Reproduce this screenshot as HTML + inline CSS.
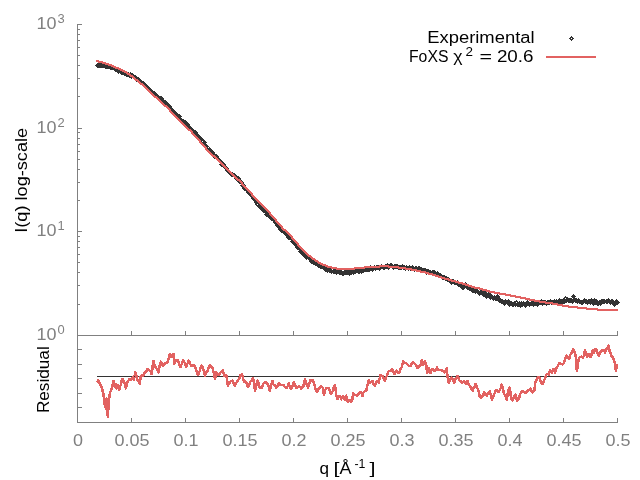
<!DOCTYPE html>
<html lang="en">
<head>
<meta charset="utf-8">
<title>FoXS fit plot</title>
<style>
html,body{margin:0;padding:0;background:#ffffff;}
body{width:640px;height:480px;overflow:hidden;font-family:"Liberation Sans",sans-serif;}
svg{display:block;}
</style>
</head>
<body>
<svg width="640" height="480" viewBox="0 0 640 480">
<rect width="640" height="480" fill="#ffffff"/>
<g fill="#808080" shape-rendering="crispEdges">
<rect x="77" y="24" width="1" height="399"/>
<rect x="77" y="335" width="541" height="1"/>
<rect x="77" y="422" width="541" height="1"/>
<rect x="131" y="331" width="1" height="5"/>
<rect x="131" y="418" width="1" height="5"/>
<rect x="185" y="331" width="1" height="5"/>
<rect x="185" y="418" width="1" height="5"/>
<rect x="239" y="331" width="1" height="5"/>
<rect x="239" y="418" width="1" height="5"/>
<rect x="293" y="331" width="1" height="5"/>
<rect x="293" y="418" width="1" height="5"/>
<rect x="347" y="331" width="1" height="5"/>
<rect x="347" y="418" width="1" height="5"/>
<rect x="401" y="331" width="1" height="5"/>
<rect x="401" y="418" width="1" height="5"/>
<rect x="455" y="331" width="1" height="5"/>
<rect x="455" y="418" width="1" height="5"/>
<rect x="509" y="331" width="1" height="5"/>
<rect x="509" y="418" width="1" height="5"/>
<rect x="563" y="331" width="1" height="5"/>
<rect x="563" y="418" width="1" height="5"/>
<rect x="617" y="331" width="1" height="5"/>
<rect x="617" y="418" width="1" height="5"/>
<rect x="77" y="335" width="5" height="1"/>
<rect x="77" y="304" width="3" height="1"/>
<rect x="77" y="285" width="3" height="1"/>
<rect x="77" y="272" width="3" height="1"/>
<rect x="77" y="262" width="3" height="1"/>
<rect x="77" y="254" width="3" height="1"/>
<rect x="77" y="247" width="3" height="1"/>
<rect x="77" y="241" width="3" height="1"/>
<rect x="77" y="236" width="3" height="1"/>
<rect x="77" y="231" width="5" height="1"/>
<rect x="77" y="200" width="3" height="1"/>
<rect x="77" y="182" width="3" height="1"/>
<rect x="77" y="169" width="3" height="1"/>
<rect x="77" y="159" width="3" height="1"/>
<rect x="77" y="151" width="3" height="1"/>
<rect x="77" y="144" width="3" height="1"/>
<rect x="77" y="138" width="3" height="1"/>
<rect x="77" y="132" width="3" height="1"/>
<rect x="77" y="128" width="5" height="1"/>
<rect x="77" y="96" width="3" height="1"/>
<rect x="77" y="78" width="3" height="1"/>
<rect x="77" y="65" width="3" height="1"/>
<rect x="77" y="55" width="3" height="1"/>
<rect x="77" y="47" width="3" height="1"/>
<rect x="77" y="40" width="3" height="1"/>
<rect x="77" y="34" width="3" height="1"/>
<rect x="77" y="29" width="3" height="1"/>
<rect x="77" y="24" width="5" height="1"/>
<rect x="77" y="349" width="5" height="1"/>
<rect x="77" y="364" width="5" height="1"/>
<rect x="77" y="378" width="5" height="1"/>
<rect x="77" y="393" width="5" height="1"/>
<rect x="77" y="407" width="5" height="1"/>
</g>
<rect x="97" y="376" width="521" height="1" fill="#333333" shape-rendering="crispEdges"/>
<defs><g id="d" fill="#333333" shape-rendering="crispEdges"><rect x="0" y="-2" width="1" height="1"/><rect x="-1" y="-1" width="3" height="1"/><rect x="-2" y="0" width="2" height="1"/><rect x="1" y="0" width="2" height="1"/><rect x="-1" y="1" width="3" height="1"/><rect x="0" y="2" width="1" height="1"/></g><g id="e" fill="#333333" shape-rendering="crispEdges"><rect x="0" y="-2" width="1" height="5"/><rect x="-1" y="-1" width="3" height="3"/><rect x="-2" y="0" width="5" height="1"/></g></defs>
<g>
<use href="#d" x="97" y="65"/>
<use href="#d" x="98" y="65"/>
<use href="#e" x="99" y="65"/>
<use href="#e" x="100" y="65"/>
<use href="#e" x="101" y="65"/>
<use href="#e" x="102" y="65"/>
<use href="#e" x="103" y="65"/>
<use href="#e" x="104" y="65"/>
<use href="#e" x="105" y="66"/>
<use href="#d" x="106" y="66"/>
<use href="#e" x="107" y="66"/>
<use href="#e" x="108" y="66"/>
<use href="#e" x="110" y="67"/>
<use href="#e" x="111" y="67"/>
<use href="#e" x="112" y="67"/>
<use href="#d" x="113" y="67"/>
<use href="#e" x="114" y="68"/>
<use href="#e" x="115" y="69"/>
<use href="#e" x="116" y="69"/>
<use href="#e" x="117" y="69"/>
<use href="#e" x="118" y="71"/>
<use href="#e" x="119" y="70"/>
<use href="#e" x="120" y="71"/>
<use href="#e" x="121" y="72"/>
<use href="#e" x="122" y="72"/>
<use href="#e" x="123" y="72"/>
<use href="#e" x="124" y="73"/>
<use href="#e" x="125" y="73"/>
<use href="#e" x="126" y="74"/>
<use href="#e" x="127" y="74"/>
<use href="#e" x="128" y="74"/>
<use href="#e" x="129" y="75"/>
<use href="#e" x="130" y="74"/>
<use href="#e" x="131" y="76"/>
<use href="#d" x="132" y="75"/>
<use href="#e" x="133" y="76"/>
<use href="#e" x="135" y="77"/>
<use href="#e" x="136" y="79"/>
<use href="#e" x="137" y="79"/>
<use href="#e" x="138" y="79"/>
<use href="#e" x="139" y="81"/>
<use href="#e" x="140" y="81"/>
<use href="#e" x="141" y="82"/>
<use href="#e" x="142" y="83"/>
<use href="#d" x="143" y="83"/>
<use href="#e" x="144" y="84"/>
<use href="#e" x="145" y="86"/>
<use href="#e" x="146" y="87"/>
<use href="#e" x="147" y="87"/>
<use href="#e" x="148" y="88"/>
<use href="#e" x="149" y="90"/>
<use href="#e" x="150" y="90"/>
<use href="#e" x="151" y="91"/>
<use href="#d" x="152" y="92"/>
<use href="#e" x="153" y="93"/>
<use href="#e" x="154" y="93"/>
<use href="#d" x="155" y="94"/>
<use href="#e" x="156" y="96"/>
<use href="#e" x="157" y="96"/>
<use href="#e" x="158" y="98"/>
<use href="#e" x="160" y="98"/>
<use href="#e" x="161" y="98"/>
<use href="#e" x="162" y="100"/>
<use href="#e" x="163" y="102"/>
<use href="#e" x="164" y="102"/>
<use href="#e" x="165" y="102"/>
<use href="#d" x="166" y="103"/>
<use href="#e" x="167" y="104"/>
<use href="#e" x="168" y="106"/>
<use href="#e" x="169" y="106"/>
<use href="#e" x="170" y="109"/>
<use href="#e" x="171" y="109"/>
<use href="#e" x="172" y="110"/>
<use href="#e" x="173" y="112"/>
<use href="#e" x="174" y="113"/>
<use href="#e" x="175" y="113"/>
<use href="#e" x="176" y="114"/>
<use href="#e" x="177" y="116"/>
<use href="#e" x="178" y="116"/>
<use href="#e" x="179" y="116"/>
<use href="#e" x="180" y="119"/>
<use href="#e" x="181" y="120"/>
<use href="#e" x="182" y="121"/>
<use href="#e" x="183" y="121"/>
<use href="#e" x="185" y="122"/>
<use href="#e" x="186" y="123"/>
<use href="#e" x="187" y="124"/>
<use href="#e" x="188" y="126"/>
<use href="#e" x="189" y="128"/>
<use href="#e" x="190" y="128"/>
<use href="#e" x="191" y="129"/>
<use href="#e" x="192" y="130"/>
<use href="#e" x="193" y="131"/>
<use href="#e" x="194" y="132"/>
<use href="#d" x="195" y="132"/>
<use href="#e" x="196" y="134"/>
<use href="#d" x="197" y="137"/>
<use href="#e" x="198" y="137"/>
<use href="#e" x="199" y="137"/>
<use href="#e" x="200" y="138"/>
<use href="#e" x="201" y="139"/>
<use href="#d" x="202" y="141"/>
<use href="#e" x="203" y="143"/>
<use href="#e" x="204" y="142"/>
<use href="#e" x="205" y="145"/>
<use href="#e" x="206" y="146"/>
<use href="#e" x="207" y="149"/>
<use href="#e" x="209" y="149"/>
<use href="#e" x="210" y="151"/>
<use href="#e" x="211" y="151"/>
<use href="#e" x="212" y="152"/>
<use href="#e" x="213" y="154"/>
<use href="#e" x="214" y="156"/>
<use href="#e" x="215" y="156"/>
<use href="#e" x="216" y="156"/>
<use href="#e" x="217" y="158"/>
<use href="#e" x="218" y="159"/>
<use href="#e" x="219" y="160"/>
<use href="#e" x="220" y="161"/>
<use href="#e" x="221" y="164"/>
<use href="#e" x="222" y="163"/>
<use href="#e" x="223" y="164"/>
<use href="#e" x="224" y="166"/>
<use href="#e" x="225" y="167"/>
<use href="#e" x="226" y="168"/>
<use href="#e" x="227" y="170"/>
<use href="#e" x="228" y="171"/>
<use href="#e" x="229" y="172"/>
<use href="#e" x="230" y="173"/>
<use href="#e" x="231" y="174"/>
<use href="#e" x="232" y="174"/>
<use href="#e" x="234" y="175"/>
<use href="#e" x="235" y="176"/>
<use href="#e" x="236" y="178"/>
<use href="#d" x="237" y="178"/>
<use href="#e" x="238" y="178"/>
<use href="#e" x="239" y="181"/>
<use href="#d" x="240" y="181"/>
<use href="#e" x="241" y="182"/>
<use href="#e" x="242" y="185"/>
<use href="#e" x="243" y="185"/>
<use href="#e" x="244" y="188"/>
<use href="#e" x="245" y="188"/>
<use href="#e" x="246" y="189"/>
<use href="#e" x="247" y="190"/>
<use href="#d" x="248" y="192"/>
<use href="#e" x="249" y="193"/>
<use href="#e" x="250" y="194"/>
<use href="#e" x="251" y="195"/>
<use href="#d" x="252" y="196"/>
<use href="#e" x="253" y="198"/>
<use href="#e" x="254" y="198"/>
<use href="#e" x="255" y="200"/>
<use href="#e" x="256" y="202"/>
<use href="#d" x="257" y="204"/>
<use href="#e" x="259" y="206"/>
<use href="#e" x="260" y="204"/>
<use href="#e" x="261" y="207"/>
<use href="#e" x="262" y="209"/>
<use href="#d" x="263" y="210"/>
<use href="#e" x="264" y="209"/>
<use href="#e" x="265" y="211"/>
<use href="#e" x="266" y="214"/>
<use href="#e" x="267" y="212"/>
<use href="#e" x="268" y="215"/>
<use href="#e" x="269" y="216"/>
<use href="#e" x="270" y="216"/>
<use href="#e" x="271" y="218"/>
<use href="#e" x="272" y="218"/>
<use href="#e" x="273" y="219"/>
<use href="#e" x="274" y="220"/>
<use href="#e" x="275" y="222"/>
<use href="#e" x="276" y="223"/>
<use href="#e" x="277" y="225"/>
<use href="#e" x="278" y="225"/>
<use href="#e" x="279" y="227"/>
<use href="#d" x="280" y="229"/>
<use href="#e" x="281" y="230"/>
<use href="#e" x="282" y="229"/>
<use href="#e" x="284" y="232"/>
<use href="#e" x="285" y="232"/>
<use href="#e" x="286" y="234"/>
<use href="#e" x="287" y="235"/>
<use href="#e" x="288" y="237"/>
<use href="#e" x="289" y="237"/>
<use href="#e" x="290" y="236"/>
<use href="#e" x="291" y="238"/>
<use href="#d" x="292" y="241"/>
<use href="#e" x="293" y="241"/>
<use href="#e" x="294" y="243"/>
<use href="#e" x="295" y="244"/>
<use href="#d" x="296" y="244"/>
<use href="#d" x="297" y="247"/>
<use href="#e" x="298" y="247"/>
<use href="#e" x="299" y="247"/>
<use href="#e" x="300" y="251"/>
<use href="#e" x="301" y="249"/>
<use href="#e" x="302" y="252"/>
<use href="#e" x="303" y="254"/>
<use href="#e" x="304" y="254"/>
<use href="#e" x="305" y="254"/>
<use href="#e" x="306" y="257"/>
<use href="#e" x="308" y="256"/>
<use href="#e" x="309" y="257"/>
<use href="#e" x="310" y="259"/>
<use href="#e" x="311" y="261"/>
<use href="#e" x="312" y="261"/>
<use href="#e" x="313" y="262"/>
<use href="#e" x="314" y="262"/>
<use href="#e" x="315" y="263"/>
<use href="#e" x="316" y="263"/>
<use href="#e" x="317" y="264"/>
<use href="#e" x="318" y="265"/>
<use href="#e" x="319" y="265"/>
<use href="#d" x="320" y="266"/>
<use href="#e" x="321" y="266"/>
<use href="#e" x="322" y="266"/>
<use href="#e" x="323" y="267"/>
<use href="#e" x="324" y="268"/>
<use href="#e" x="325" y="269"/>
<use href="#e" x="326" y="269"/>
<use href="#e" x="327" y="270"/>
<use href="#e" x="328" y="269"/>
<use href="#e" x="329" y="270"/>
<use href="#e" x="330" y="270"/>
<use href="#d" x="331" y="271"/>
<use href="#e" x="333" y="271"/>
<use href="#e" x="334" y="271"/>
<use href="#e" x="335" y="271"/>
<use href="#e" x="336" y="272"/>
<use href="#e" x="337" y="271"/>
<use href="#e" x="338" y="271"/>
<use href="#e" x="339" y="272"/>
<use href="#e" x="340" y="272"/>
<use href="#d" x="341" y="272"/>
<use href="#e" x="342" y="273"/>
<use href="#e" x="343" y="273"/>
<use href="#e" x="344" y="272"/>
<use href="#e" x="345" y="272"/>
<use href="#e" x="346" y="272"/>
<use href="#e" x="347" y="272"/>
<use href="#e" x="348" y="271"/>
<use href="#e" x="349" y="273"/>
<use href="#e" x="350" y="272"/>
<use href="#e" x="351" y="272"/>
<use href="#d" x="352" y="271"/>
<use href="#e" x="353" y="272"/>
<use href="#e" x="354" y="271"/>
<use href="#e" x="355" y="271"/>
<use href="#e" x="356" y="270"/>
<use href="#e" x="358" y="271"/>
<use href="#e" x="359" y="271"/>
<use href="#e" x="360" y="270"/>
<use href="#e" x="361" y="271"/>
<use href="#e" x="362" y="270"/>
<use href="#e" x="363" y="270"/>
<use href="#e" x="364" y="269"/>
<use href="#e" x="365" y="269"/>
<use href="#e" x="366" y="269"/>
<use href="#e" x="367" y="269"/>
<use href="#e" x="368" y="269"/>
<use href="#e" x="369" y="269"/>
<use href="#e" x="370" y="267"/>
<use href="#e" x="371" y="268"/>
<use href="#e" x="372" y="269"/>
<use href="#e" x="373" y="268"/>
<use href="#e" x="374" y="267"/>
<use href="#e" x="375" y="268"/>
<use href="#e" x="376" y="267"/>
<use href="#e" x="377" y="267"/>
<use href="#e" x="378" y="267"/>
<use href="#e" x="379" y="268"/>
<use href="#e" x="380" y="267"/>
<use href="#e" x="381" y="266"/>
<use href="#e" x="383" y="267"/>
<use href="#e" x="384" y="267"/>
<use href="#e" x="385" y="266"/>
<use href="#e" x="386" y="266"/>
<use href="#e" x="387" y="265"/>
<use href="#d" x="388" y="267"/>
<use href="#e" x="389" y="266"/>
<use href="#e" x="390" y="265"/>
<use href="#e" x="391" y="265"/>
<use href="#e" x="392" y="266"/>
<use href="#e" x="393" y="267"/>
<use href="#e" x="394" y="266"/>
<use href="#e" x="395" y="266"/>
<use href="#e" x="396" y="266"/>
<use href="#e" x="397" y="266"/>
<use href="#e" x="398" y="267"/>
<use href="#e" x="399" y="267"/>
<use href="#e" x="400" y="267"/>
<use href="#e" x="401" y="267"/>
<use href="#e" x="402" y="266"/>
<use href="#e" x="403" y="267"/>
<use href="#e" x="404" y="267"/>
<use href="#e" x="405" y="268"/>
<use href="#e" x="406" y="267"/>
<use href="#e" x="408" y="268"/>
<use href="#e" x="409" y="267"/>
<use href="#e" x="410" y="268"/>
<use href="#e" x="411" y="268"/>
<use href="#e" x="412" y="267"/>
<use href="#e" x="413" y="268"/>
<use href="#e" x="414" y="269"/>
<use href="#e" x="415" y="268"/>
<use href="#e" x="416" y="268"/>
<use href="#e" x="417" y="269"/>
<use href="#d" x="418" y="268"/>
<use href="#e" x="419" y="268"/>
<use href="#e" x="420" y="269"/>
<use href="#e" x="421" y="269"/>
<use href="#e" x="422" y="270"/>
<use href="#e" x="423" y="270"/>
<use href="#e" x="424" y="270"/>
<use href="#e" x="425" y="270"/>
<use href="#e" x="426" y="272"/>
<use href="#e" x="427" y="271"/>
<use href="#e" x="428" y="271"/>
<use href="#d" x="429" y="272"/>
<use href="#d" x="430" y="272"/>
<use href="#e" x="432" y="272"/>
<use href="#e" x="433" y="272"/>
<use href="#e" x="434" y="272"/>
<use href="#e" x="435" y="274"/>
<use href="#e" x="436" y="274"/>
<use href="#e" x="437" y="273"/>
<use href="#e" x="438" y="275"/>
<use href="#d" x="439" y="275"/>
<use href="#e" x="440" y="275"/>
<use href="#e" x="441" y="276"/>
<use href="#d" x="442" y="277"/>
<use href="#e" x="443" y="277"/>
<use href="#e" x="444" y="277"/>
<use href="#e" x="445" y="278"/>
<use href="#e" x="446" y="278"/>
<use href="#e" x="447" y="279"/>
<use href="#d" x="448" y="279"/>
<use href="#e" x="449" y="280"/>
<use href="#d" x="450" y="281"/>
<use href="#e" x="451" y="282"/>
<use href="#e" x="452" y="281"/>
<use href="#e" x="453" y="281"/>
<use href="#d" x="454" y="282"/>
<use href="#d" x="455" y="282"/>
<use href="#e" x="457" y="282"/>
<use href="#e" x="458" y="284"/>
<use href="#e" x="459" y="284"/>
<use href="#e" x="460" y="285"/>
<use href="#e" x="461" y="284"/>
<use href="#d" x="462" y="287"/>
<use href="#e" x="463" y="287"/>
<use href="#e" x="464" y="285"/>
<use href="#e" x="465" y="284"/>
<use href="#e" x="466" y="286"/>
<use href="#e" x="467" y="287"/>
<use href="#e" x="468" y="286"/>
<use href="#e" x="469" y="288"/>
<use href="#e" x="470" y="288"/>
<use href="#e" x="471" y="288"/>
<use href="#e" x="472" y="290"/>
<use href="#e" x="473" y="290"/>
<use href="#d" x="474" y="290"/>
<use href="#e" x="475" y="291"/>
<use href="#e" x="476" y="290"/>
<use href="#e" x="477" y="291"/>
<use href="#e" x="478" y="292"/>
<use href="#e" x="479" y="293"/>
<use href="#d" x="480" y="292"/>
<use href="#e" x="482" y="291"/>
<use href="#e" x="483" y="294"/>
<use href="#e" x="484" y="292"/>
<use href="#e" x="485" y="294"/>
<use href="#e" x="486" y="296"/>
<use href="#e" x="487" y="295"/>
<use href="#e" x="488" y="294"/>
<use href="#e" x="489" y="294"/>
<use href="#e" x="490" y="297"/>
<use href="#e" x="491" y="296"/>
<use href="#e" x="492" y="297"/>
<use href="#e" x="493" y="298"/>
<use href="#e" x="494" y="297"/>
<use href="#d" x="495" y="298"/>
<use href="#e" x="496" y="298"/>
<use href="#e" x="497" y="296"/>
<use href="#e" x="498" y="298"/>
<use href="#e" x="499" y="300"/>
<use href="#e" x="500" y="300"/>
<use href="#e" x="501" y="301"/>
<use href="#e" x="502" y="301"/>
<use href="#e" x="503" y="302"/>
<use href="#e" x="504" y="303"/>
<use href="#e" x="505" y="301"/>
<use href="#e" x="507" y="302"/>
<use href="#e" x="508" y="301"/>
<use href="#e" x="509" y="304"/>
<use href="#e" x="510" y="303"/>
<use href="#e" x="511" y="303"/>
<use href="#e" x="512" y="304"/>
<use href="#e" x="513" y="304"/>
<use href="#e" x="514" y="303"/>
<use href="#d" x="515" y="304"/>
<use href="#d" x="516" y="302"/>
<use href="#e" x="517" y="304"/>
<use href="#e" x="518" y="304"/>
<use href="#d" x="519" y="303"/>
<use href="#e" x="520" y="305"/>
<use href="#e" x="521" y="303"/>
<use href="#e" x="522" y="304"/>
<use href="#e" x="523" y="303"/>
<use href="#e" x="524" y="304"/>
<use href="#e" x="525" y="305"/>
<use href="#e" x="526" y="303"/>
<use href="#e" x="527" y="302"/>
<use href="#e" x="528" y="303"/>
<use href="#e" x="529" y="304"/>
<use href="#e" x="531" y="303"/>
<use href="#e" x="532" y="303"/>
<use href="#e" x="533" y="304"/>
<use href="#e" x="534" y="301"/>
<use href="#e" x="535" y="303"/>
<use href="#e" x="536" y="302"/>
<use href="#e" x="537" y="304"/>
<use href="#d" x="538" y="302"/>
<use href="#e" x="539" y="302"/>
<use href="#e" x="540" y="302"/>
<use href="#e" x="541" y="301"/>
<use href="#e" x="542" y="303"/>
<use href="#e" x="543" y="302"/>
<use href="#e" x="544" y="302"/>
<use href="#e" x="545" y="302"/>
<use href="#e" x="546" y="303"/>
<use href="#e" x="547" y="302"/>
<use href="#e" x="548" y="302"/>
<use href="#e" x="549" y="302"/>
<use href="#e" x="550" y="301"/>
<use href="#e" x="551" y="302"/>
<use href="#e" x="552" y="302"/>
<use href="#e" x="553" y="302"/>
<use href="#e" x="554" y="301"/>
<use href="#e" x="556" y="301"/>
<use href="#e" x="557" y="302"/>
<use href="#e" x="558" y="303"/>
<use href="#e" x="559" y="300"/>
<use href="#e" x="560" y="302"/>
<use href="#d" x="561" y="301"/>
<use href="#d" x="562" y="301"/>
<use href="#e" x="563" y="301"/>
<use href="#e" x="564" y="301"/>
<use href="#d" x="565" y="298"/>
<use href="#e" x="566" y="300"/>
<use href="#d" x="567" y="299"/>
<use href="#e" x="568" y="300"/>
<use href="#e" x="569" y="300"/>
<use href="#e" x="570" y="300"/>
<use href="#e" x="571" y="300"/>
<use href="#e" x="572" y="301"/>
<use href="#e" x="573" y="296"/>
<use href="#e" x="574" y="299"/>
<use href="#e" x="575" y="300"/>
<use href="#d" x="576" y="300"/>
<use href="#e" x="577" y="301"/>
<use href="#e" x="578" y="300"/>
<use href="#e" x="579" y="301"/>
<use href="#d" x="581" y="302"/>
<use href="#e" x="582" y="302"/>
<use href="#e" x="583" y="301"/>
<use href="#e" x="584" y="300"/>
<use href="#e" x="585" y="301"/>
<use href="#e" x="586" y="301"/>
<use href="#e" x="587" y="302"/>
<use href="#e" x="588" y="301"/>
<use href="#d" x="589" y="301"/>
<use href="#e" x="590" y="302"/>
<use href="#e" x="591" y="300"/>
<use href="#e" x="592" y="302"/>
<use href="#e" x="593" y="303"/>
<use href="#e" x="594" y="300"/>
<use href="#e" x="595" y="302"/>
<use href="#e" x="596" y="301"/>
<use href="#d" x="597" y="303"/>
<use href="#e" x="598" y="303"/>
<use href="#e" x="599" y="302"/>
<use href="#e" x="600" y="303"/>
<use href="#e" x="601" y="301"/>
<use href="#e" x="602" y="301"/>
<use href="#e" x="603" y="301"/>
<use href="#e" x="604" y="301"/>
<use href="#e" x="606" y="301"/>
<use href="#e" x="607" y="301"/>
<use href="#e" x="608" y="300"/>
<use href="#d" x="609" y="301"/>
<use href="#e" x="610" y="302"/>
<use href="#e" x="611" y="301"/>
<use href="#e" x="612" y="301"/>
<use href="#e" x="613" y="303"/>
<use href="#e" x="614" y="304"/>
<use href="#e" x="615" y="302"/>
<use href="#e" x="616" y="301"/>
<use href="#e" x="617" y="302"/>
</g>
<path fill="#e26261" shape-rendering="crispEdges" d="M96 60h3v1h-3zM96 61h7v1h-7zM98 62h8v1h-8zM102 63h7v1h-7zM105 64h7v1h-7zM108 65h6v1h-6zM111 66h5v1h-5zM113 67h6v1h-6zM115 68h6v1h-6zM118 69h5v1h-5zM120 70h5v1h-5zM122 71h5v1h-5zM124 72h4v1h-4zM126 73h4v1h-4zM127 74h4v1h-4zM129 75h4v1h-4zM130 76h4v1h-4zM132 77h3v1h-3zM133 78h3v1h-3zM134 79h4v1h-4zM135 80h4v1h-4zM137 81h3v1h-3zM138 82h3v1h-3zM139 83h4v1h-4zM140 84h4v1h-4zM142 85h3v1h-3zM143 86h3v1h-3zM144 87h3v1h-3zM145 88h3v1h-3zM146 89h3v1h-3zM147 90h3v1h-3zM148 91h3v1h-3zM149 92h3v1h-3zM150 93h3v1h-3zM151 94h3v1h-3zM152 95h3v1h-3zM153 96h4v1h-4zM154 97h4v1h-4zM156 98h3v1h-3zM157 99h3v1h-3zM158 100h3v1h-3zM159 101h3v1h-3zM160 102h3v1h-3zM161 103h3v1h-3zM162 104h3v1h-3zM163 105h4v1h-4zM164 106h4v1h-4zM166 107h3v1h-3zM167 108h3v1h-3zM168 109h3v1h-3zM169 110h2v1h-2zM169 111h3v1h-3zM170 112h3v1h-3zM171 113h3v1h-3zM172 114h3v1h-3zM173 115h3v1h-3zM174 116h3v1h-3zM175 117h3v1h-3zM176 118h3v1h-3zM177 119h3v1h-3zM178 120h3v1h-3zM179 121h3v1h-3zM180 122h3v1h-3zM181 123h3v1h-3zM182 124h3v1h-3zM183 125h3v1h-3zM184 126h3v1h-3zM185 127h3v1h-3zM186 128h3v1h-3zM187 129h4v1h-4zM188 130h4v1h-4zM190 131h3v1h-3zM191 132h2v1h-2zM191 133h3v1h-3zM192 134h3v1h-3zM193 135h3v1h-3zM194 136h3v1h-3zM195 137h3v1h-3zM196 138h3v1h-3zM197 139h3v1h-3zM198 140h3v1h-3zM199 141h2v1h-2zM199 142h3v1h-3zM200 143h3v1h-3zM201 144h3v1h-3zM202 145h3v1h-3zM203 146h3v1h-3zM204 147h3v1h-3zM205 148h2v1h-2zM205 149h3v1h-3zM206 150h3v1h-3zM207 151h3v1h-3zM208 152h3v1h-3zM209 153h3v1h-3zM210 154h3v1h-3zM211 155h4v1h-4zM212 156h4v1h-4zM214 157h3v1h-3zM215 158h3v1h-3zM216 159h3v1h-3zM217 160h3v1h-3zM218 161h3v1h-3zM219 162h3v1h-3zM220 163h3v1h-3zM221 164h3v1h-3zM222 165h3v1h-3zM223 166h3v1h-3zM224 167h3v1h-3zM225 168h3v1h-3zM226 169h3v1h-3zM227 170h3v1h-3zM228 171h3v1h-3zM229 172h3v1h-3zM230 173h3v1h-3zM231 174h3v1h-3zM232 175h3v1h-3zM233 176h3v1h-3zM234 177h3v1h-3zM235 178h3v1h-3zM236 179h4v1h-4zM237 180h4v1h-4zM239 181h3v1h-3zM240 182h3v1h-3zM241 183h2v1h-2zM241 184h3v1h-3zM242 185h3v1h-3zM243 186h3v1h-3zM244 187h3v1h-3zM245 188h3v1h-3zM246 189h3v1h-3zM247 190h3v1h-3zM248 191h3v1h-3zM249 192h3v1h-3zM250 193h3v1h-3zM251 194h2v1h-2zM251 195h3v1h-3zM252 196h3v1h-3zM253 197h3v1h-3zM254 198h3v1h-3zM255 199h3v1h-3zM256 200h3v1h-3zM257 201h3v1h-3zM258 202h3v1h-3zM259 203h3v1h-3zM260 204h3v1h-3zM261 205h3v1h-3zM262 206h3v1h-3zM263 207h3v1h-3zM264 208h3v1h-3zM265 209h3v1h-3zM266 210h3v1h-3zM267 211h3v1h-3zM268 212h3v1h-3zM269 213h2v1h-2zM269 214h3v1h-3zM270 215h3v1h-3zM271 216h3v1h-3zM272 217h3v1h-3zM273 218h3v1h-3zM274 219h3v1h-3zM275 220h2v1h-2zM275 221h3v1h-3zM276 222h3v1h-3zM277 223h3v1h-3zM278 224h3v1h-3zM279 225h3v1h-3zM280 226h3v1h-3zM281 227h2v1h-2zM281 228h3v1h-3zM282 229h4v1h-4zM283 230h4v1h-4zM285 231h3v1h-3zM286 232h3v1h-3zM287 233h3v1h-3zM288 234h3v1h-3zM289 235h3v1h-3zM290 236h3v1h-3zM291 237h2v1h-2zM291 238h3v1h-3zM292 239h3v1h-3zM293 240h3v1h-3zM294 241h3v1h-3zM295 242h3v1h-3zM296 243h3v1h-3zM297 244h2v1h-2zM297 245h3v1h-3zM298 246h3v1h-3zM299 247h3v1h-3zM300 248h3v1h-3zM301 249h3v1h-3zM302 250h3v1h-3zM303 251h3v1h-3zM304 252h3v1h-3zM305 253h3v1h-3zM306 254h3v1h-3zM307 255h4v1h-4zM308 256h4v1h-4zM310 257h3v1h-3zM311 258h4v1h-4zM312 259h4v1h-4zM314 260h4v1h-4zM315 261h4v1h-4zM317 262h4v1h-4zM318 263h5v1h-5zM320 264h6v1h-6zM322 265h6v1h-6zM379 265h10v1h-10zM325 266h7v1h-7zM364 266h35v1h-35zM327 267h10v1h-10zM354 267h26v1h-26zM388 267h18v1h-18zM331 268h34v1h-34zM398 268h14v1h-14zM336 269h19v1h-19zM405 269h12v1h-12zM411 270h10v1h-10zM416 271h10v1h-10zM420 272h9v1h-9zM425 273h8v1h-8zM428 274h8v1h-8zM432 275h7v1h-7zM435 276h7v1h-7zM438 277h7v1h-7zM441 278h8v1h-8zM444 279h8v1h-8zM448 280h8v1h-8zM451 281h8v1h-8zM455 282h8v1h-8zM458 283h8v1h-8zM462 284h7v1h-7zM465 285h7v1h-7zM468 286h7v1h-7zM471 287h9v1h-9zM474 288h9v1h-9zM479 289h8v1h-8zM482 290h8v1h-8zM486 291h9v1h-9zM489 292h11v1h-11zM494 293h12v1h-12zM499 294h12v1h-12zM505 295h11v1h-11zM510 296h11v1h-11zM515 297h11v1h-11zM520 298h10v1h-10zM525 299h10v1h-10zM529 300h11v1h-11zM534 301h12v1h-12zM539 302h14v1h-14zM545 303h13v1h-13zM552 304h11v1h-11zM557 305h12v1h-12zM562 306h16v1h-16zM568 307h19v1h-19zM577 308h21v1h-21zM586 309h32v1h-32zM597 310h21v1h-21z"/>
<polyline fill="none" stroke="#e26261" stroke-width="2.5" stroke-linejoin="round" shape-rendering="crispEdges" points="96.7,382.5 97.5,381.4 98.3,380 99.2,382.7 100,384.2 100.8,385.3 101.7,387.5 102.5,390.4 103.3,393.3 104.7,405 105.8,408.3 106.7,398.7 107.8,416.7 108.7,403.3 110,391.7 110.8,391.1 111.7,388.3 112.5,385.8 113.3,380.8 114.7,386.7 115.8,384.2 116.7,388.3 117.5,385 118.3,386.3 119.2,390 120,386.6 120.8,385 121.7,380.7 122.5,379.2 123.3,380.7 124.2,382.5 125,383.9 125.8,388.3 126.7,384.9 127.5,381.7 128.3,380.8 129.2,379.2 130,379.1 130.8,380 131.7,379.2 132.5,377.5 133.7,380 134.5,376.5 135.3,372.5 136.2,374.3 137,379.2 137.9,380.9 138.8,381.4 139.7,383.7 140.8,375.8 142.1,375.6 143.3,375.8 144.6,373.1 145.8,371.7 146.7,370.9 147.5,369.2 148.6,369.9 149.7,370.8 150.7,371.5 151.7,374.2 152.5,367.6 153.3,360.8 154.6,365 155.8,367.5 157.1,369.4 158.3,372.5 159.6,366.2 160.8,361.7 161.7,363.4 162.5,365.8 163.8,365.5 165,362.8 166.2,363.3 167.5,361.8 168.8,358.3 170,353.8 170.9,356.4 171.9,356.9 172.7,356.3 173.5,353.8 174.2,363.8 175.2,361.5 176.2,360 177.5,360.2 178.8,362.5 179.7,365.2 180.6,366.9 181.8,363.6 183.1,360 184.2,361.9 185.2,363.7 186.2,366.9 187.5,363.5 188.8,360.6 190,363.3 191.2,366.2 192.3,365.6 193.3,365.4 194.4,365.6 195.3,367.7 196.2,370 197.2,373.7 198.1,375 199.1,372.8 200,370 200.9,367.1 201.9,365.6 202.9,368.2 204,372.1 205,375.6 206.2,372.5 207.5,371.2 208.8,367.2 210,365 211,366.7 212.1,367 213.1,370 214.1,374.3 215,378.8 216.2,372.5 217.2,373.4 218.1,375 219.3,374.3 220.6,372.5 221.7,371.9 222.8,370 223.6,373.7 224.4,376.2 225.3,376 226.2,375 227.1,379.9 227.9,385.6 228.9,384.2 230,381.9 231.2,380.9 232.5,380.6 233.6,383.3 234.8,385.6 235.8,383.2 236.9,381.9 238.2,380 239.4,378.4 240.7,374.9 241.9,374.1 242.7,376.1 243.4,379.7 244.3,381.9 245.3,380.9 246.2,382.5 247.2,385.3 248.1,386.9 249.3,384.6 250.6,381.2 251.8,380.3 253.1,378.1 254.1,384.3 255,390.6 256.2,385.9 257.5,380.6 258.4,382.7 259.4,387.5 260.6,387 261.9,388.1 263.1,384.3 264.4,382.5 265.6,382.1 266.9,383.1 267.8,384.3 268.8,386.9 269.8,390.6 270.7,387.7 271.6,383.4 272.5,381.2 273.4,384.3 274.4,385 275.3,386.1 276.2,387.5 277.3,386.7 278.3,383.8 279.4,383.1 280.3,384.6 281.2,384.9 282.2,385.1 283.1,385 284.1,385.6 285,387.1 285.9,387.5 286.9,387.5 287.8,385.8 288.8,383.1 290,387.2 291.2,388.8 292.5,386.1 293.8,382.5 295,384.9 296.2,388.1 297.5,387.3 298.8,386.2 300,386.7 301.2,388.8 302.2,387.1 303.1,386.9 304.1,383.5 305,378.8 306,382.6 307.1,386.1 308.1,387.5 309.1,385.2 310,380.6 311.2,380.4 312.5,380 313.4,381.2 314.4,385 315.4,388.3 316.5,391.6 317.5,391.2 318.5,388.4 319.4,388.4 320.3,386.9 321.2,386.2 322,387.1 322.8,388.1 324,395 324.8,391.3 325.6,389.4 326.6,388 327.5,388.1 328.4,388 329.4,390 330.2,393 331,393.8 332.1,392.3 333.1,390 334.1,386.4 335,385 336.2,395 337.5,398.8 338.4,397.3 339.4,396.2 340.3,396.6 341.2,399.4 342.2,397 343.1,396.2 344.1,398.8 345,400 346.2,395.6 347,399.2 347.8,401.9 348.6,400.9 349.4,400 350.3,400.4 351.2,401.9 352.5,398.8 353.1,393.1 354.4,394.4 355.6,395 356.9,395.6 358.1,394.4 359.1,393 360,391.9 361.2,392.7 362.5,396.2 363.4,392.7 364.4,391.9 365.3,390.7 366.2,391.2 367.5,385 368.8,380 369.7,382.4 370.6,382.5 371.6,382 372.5,381.2 373.8,384.8 375,386.2 376.2,381.9 377.5,381.5 378.8,382.5 379.7,378 380.6,375 381.9,376 383.1,376.2 384.1,379.7 385,380.6 385.9,377.6 386.9,375.6 388.1,371.8 389.4,370.8 390.5,371.2 391.7,369.6 392.8,369.7 393.7,372.7 394.6,374.1 395.4,371.4 396.2,370.6 397.2,372.3 398.1,373.1 399.4,372 400.6,368.8 401.9,366.9 403.1,361.2 404.4,362.7 405.6,363.1 406.9,363.7 408.1,365 409.4,366.1 410.6,366.2 411.6,363.3 412.5,362.5 413.8,362.7 415,363.8 416,365 417.1,367.8 418.1,368.1 419.1,366.4 420,366.2 420.9,364.3 421.9,360 423.1,365 424.1,364 425,361.2 426.2,364.4 427.1,372.5 427.9,371.8 428.8,368.1 429.7,370.2 430.6,373.1 431.6,370 432.5,368.8 433.4,369.3 434.4,371.2 435.6,370.3 436.9,367.5 437.9,369.5 439,369.7 440,370 441.2,370.3 442.5,370.6 443.4,371 444.4,372.5 445.5,371.3 446.6,368.1 447.5,376.2 448.8,382.5 449.7,381.5 450.6,378.1 451.6,377.6 452.5,378.8 453.2,379.8 454,382.5 454.8,381.6 455.6,378.8 456.6,378.4 457.5,376.2 458.4,377.8 459.4,380.6 460.6,381.3 461.9,383.1 462.8,382 463.8,381.2 464.9,382.5 466,383.5 466.9,381.3 467.7,381.2 468.9,384.7 470,386 470.9,387.6 471.8,389.9 472.8,390.6 473.7,387.5 474.7,387.5 475.6,383.8 476.9,387.4 478.1,389.4 478.9,392.6 479.8,396.9 480.8,397.7 481.9,396.9 482.9,395.3 484,392.5 485,394.7 485.9,393.7 486.9,396.2 487.8,393.2 488.8,393.7 489.8,391.2 490.8,395 491.9,400 493.1,396.9 494.4,393.8 495.6,390.9 496.9,390 497.9,392.1 499,391.9 499.9,389.4 500.7,388 501.6,384.4 502.7,387.4 503.8,393.1 504.8,395.3 505.8,396.3 506.9,400 508.1,390 508.9,389.7 509.8,387.5 511,398.1 511.8,399.2 512.5,400.6 513.2,397.9 514,397.5 514.8,394.8 515.6,394.4 516.9,400.6 517.8,400.1 518.8,399.4 520,394.6 521.2,392.5 522.2,391.2 523.1,391.2 524.4,392 525.6,393.1 526.9,391.8 528.1,390.6 529.4,389.9 530.6,388.8 531.5,391 532.5,392.5 533.5,390.9 534.4,390 535.2,382.5 536.1,381 536.9,378.8 537.7,377 538.5,376.9 539.5,378.1 540.4,380.6 541.6,383.1 542.9,384 544,380.3 545,378.8 546,375.4 546.9,373.8 547.8,373.8 548.8,375 550,370.6 551,371.5 551.9,372.5 553.1,369.4 554,369.6 555,372.5 556,368.5 556.9,367.5 557.9,365.9 559,363.5 560,363.1 561.2,364.1 562.5,364.4 563.5,363.6 564.4,361.2 565.3,358.7 566.2,355.6 567.3,357.2 568.4,357.4 569.4,358.8 570.3,354.8 571.2,353.8 572.2,351.4 573.1,349.4 574.4,351.8 575.6,355 576.9,371.2 577.7,365.9 578.5,360 579.5,357.5 580.6,356.9 581.9,356.7 583.1,357.5 584,355.1 585,350.6 586.1,353 587.2,356.9 588,355.4 588.8,354.4 589.9,356.8 591,356.9 592.2,350.6 593,351.3 593.8,353.1 595,348.8 596,349.1 596.9,351.2 597.8,354.1 598.8,355.6 600,353.3 601.2,350.6 602.5,350.5 603.8,350 605,352.5 606,349.3 606.9,348.8 607.8,346.9 608.8,345.6 609.8,352.5 610.8,353.2 611.9,356.9 612.8,357.5 613.8,359.4 615,363.8 616,371.2 616.9,363.8"/>
<use href="#d" x="571" y="38"/>
<rect x="546" y="56" width="50" height="2" fill="#e26261" shape-rendering="crispEdges"/>
<g font-family="'Liberation Sans', sans-serif" font-size="16" opacity="0.999">
<g fill="#808080">
<text x="36.6" y="29" textLength="20" lengthAdjust="spacingAndGlyphs">10</text>
<text x="57.6" y="23" font-size="12.8" textLength="7.2" lengthAdjust="spacingAndGlyphs">3</text>
<text x="36.6" y="133" textLength="20" lengthAdjust="spacingAndGlyphs">10</text>
<text x="57.6" y="127" font-size="12.8" textLength="7.2" lengthAdjust="spacingAndGlyphs">2</text>
<text x="36.6" y="236" textLength="20" lengthAdjust="spacingAndGlyphs">10</text>
<text x="57.6" y="230" font-size="12.8" textLength="7.2" lengthAdjust="spacingAndGlyphs">1</text>
<text x="36.6" y="340" textLength="20" lengthAdjust="spacingAndGlyphs">10</text>
<text x="57.6" y="334" font-size="12.8" textLength="7.2" lengthAdjust="spacingAndGlyphs">0</text>
<text x="72.9" y="446" textLength="10" lengthAdjust="spacingAndGlyphs">0</text>
<text x="114.4" y="446" textLength="35" lengthAdjust="spacingAndGlyphs">0.05</text>
<text x="173.4" y="446" textLength="25" lengthAdjust="spacingAndGlyphs">0.1</text>
<text x="222.4" y="446" textLength="35" lengthAdjust="spacingAndGlyphs">0.15</text>
<text x="281.4" y="446" textLength="25" lengthAdjust="spacingAndGlyphs">0.2</text>
<text x="330.4" y="446" textLength="35" lengthAdjust="spacingAndGlyphs">0.25</text>
<text x="389.4" y="446" textLength="25" lengthAdjust="spacingAndGlyphs">0.3</text>
<text x="438.4" y="446" textLength="35" lengthAdjust="spacingAndGlyphs">0.35</text>
<text x="497.4" y="446" textLength="25" lengthAdjust="spacingAndGlyphs">0.4</text>
<text x="546.4" y="446" textLength="35" lengthAdjust="spacingAndGlyphs">0.45</text>
<text x="605.4" y="446" textLength="25" lengthAdjust="spacingAndGlyphs">0.5</text>
</g>
<g fill="#000000">
<text x="427.2" y="43" textLength="107.4" lengthAdjust="spacingAndGlyphs">Experimental</text>
<text x="409" y="62" textLength="39.4" lengthAdjust="spacingAndGlyphs">FoXS</text>
<text x="453.2" y="62" textLength="9.3" lengthAdjust="spacingAndGlyphs">&#967;</text>
<text x="465.5" y="56" font-size="12.8" textLength="7.5" lengthAdjust="spacingAndGlyphs">2</text>
<text x="479.4" y="62" textLength="12.5" lengthAdjust="spacingAndGlyphs">=</text>
<text x="496.9" y="62" textLength="36.6" lengthAdjust="spacingAndGlyphs">20.6</text>
<text transform="translate(26.8 232.8) rotate(-90)" textLength="105" lengthAdjust="spacingAndGlyphs">I(q) log-scale</text>
<text transform="translate(48.8 413.1) rotate(-90)" textLength="66.8" lengthAdjust="spacingAndGlyphs">Residual</text>
<text x="319.5" y="474" textLength="9.5" lengthAdjust="spacingAndGlyphs">q</text>
<text x="333.5" y="474" textLength="6" lengthAdjust="spacingAndGlyphs">[</text>
<text x="339.5" y="474" textLength="12" lengthAdjust="spacingAndGlyphs">&#197;</text>
<text x="354.5" y="468" font-size="12.8" textLength="11" lengthAdjust="spacingAndGlyphs">-1</text>
<text x="369.6" y="474" textLength="6" lengthAdjust="spacingAndGlyphs">]</text>
</g></g>
</svg>
</body>
</html>
